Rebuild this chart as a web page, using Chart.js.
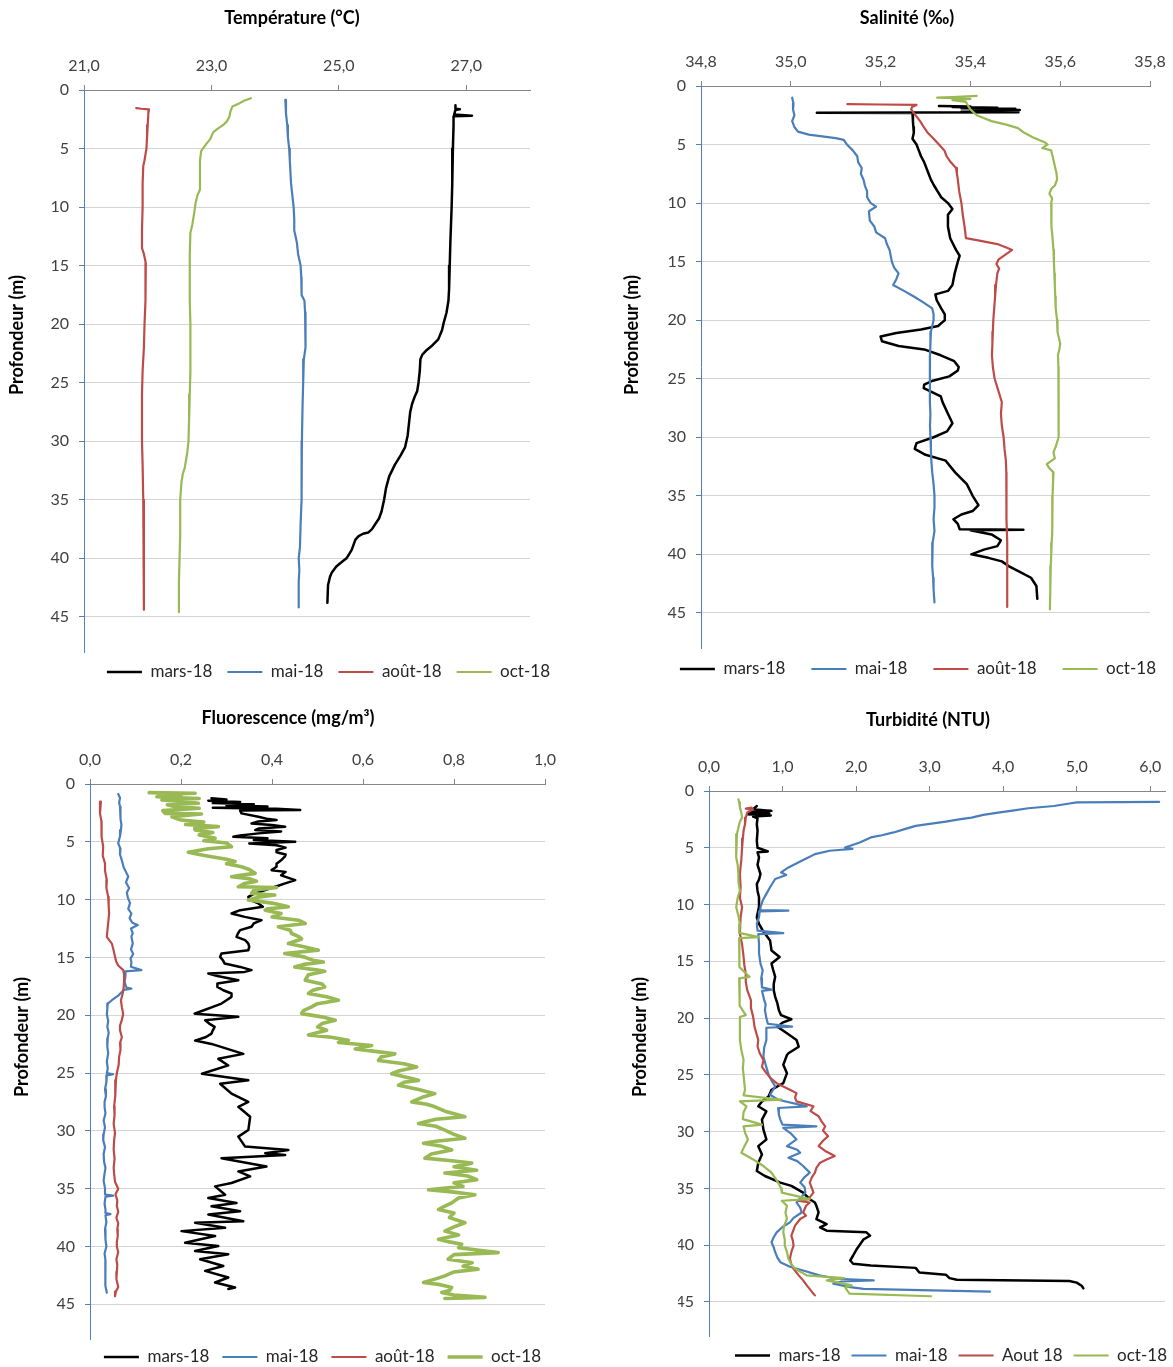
<!DOCTYPE html>
<html lang="fr">
<head>
<meta charset="utf-8">
<title>Profils verticaux 2018</title>
<script src="https://cdn.jsdelivr.net/npm/chart.js@4.4.1/dist/chart.umd.min.js"></script>
<style>
  html, body { margin: 0; padding: 0; background: #fff; }
  body { width: 1173px; height: 1367px; position: relative; overflow: hidden; }
  canvas { position: absolute; }
</style>
</head>
<body>
<canvas id="cTemp" width="586" height="700" style="left:0;top:0"></canvas>
<canvas id="cSal" width="600" height="710" style="left:586px;top:0"></canvas>
<canvas id="cFluo" width="586" height="690" style="left:0;top:690px"></canvas>
<canvas id="cTurb" width="600" height="690" style="left:586px;top:690px"></canvas>
<script>
// rows are [profondeur (m), valeur]
var depthTicks = [0, 5, 10, 15, 20, 25, 30, 35, 40, 45];
var seriesNames = ['mars-18', 'mai-18', 'août-18', 'oct-18'];
var turbNames = ['mars-18', 'mai-18', 'Aout 18', 'oct-18'];

// Température (°C)
var tempTicks = [21, 23, 25, 27];
var tempMars = [[1.3,26.83],[1.6,26.83],[1.65,26.9],[1.7,26.83],[2.1,26.81],[2.2,27.09],[2.25,26.8],[3,26.8],[5,26.79],[8,26.78],[10,26.77],[13,26.75],[15,26.74],[17,26.73],[18,26.72],[19,26.69],[20,26.64],[20.5,26.62],[21.3,26.56],[21.8,26.47],[22.2,26.38],[22.6,26.31],[23,26.28],[24,26.27],[25,26.25],[25.7,26.23],[26.2,26.19],[26.8,26.15],[27.5,26.12],[28.5,26.1],[29.5,26.08],[30.5,26.04],[31.2,25.97],[32,25.88],[33,25.79],[34,25.74],[35,25.71],[36,25.67],[36.6,25.63],[37,25.58],[37.5,25.52],[37.8,25.46],[37.9,25.38],[38.1,25.31],[38.4,25.26],[39.3,25.2],[40,25.12],[40.3,25.05],[40.7,24.96],[41.2,24.89],[41.6,24.86],[42.3,24.83],[43.8,24.82]];
var tempMai = [[0.85,24.16],[2,24.17],[3,24.19],[4,24.2],[5,24.22],[6,24.23],[7,24.24],[8,24.25],[9,24.27],[10,24.29],[11,24.3],[12,24.3],[12.5,24.32],[13,24.34],[14,24.36],[15,24.4],[16,24.41],[17,24.42],[17.5,24.41],[18,24.46],[19,24.47],[20,24.48],[21,24.48],[22,24.47],[23,24.45],[25,24.44],[27,24.43],[30,24.42],[33,24.42],[35,24.41],[37,24.4],[39,24.39],[40,24.37],[41,24.38],[42,24.37],[44.2,24.37]];
var tempAout = [[1.55,21.82],[1.6,21.9],[1.65,22.02],[2,22.01],[3,22],[4,21.99],[5,21.98],[6,21.95],[6.5,21.93],[8,21.92],[10,21.92],[12,21.91],[13.5,21.91],[14,21.94],[14.8,21.97],[16,21.97],[18,21.96],[20,21.95],[22,21.94],[24,21.92],[26,21.91],[28,21.91],[30,21.91],[32,21.92],[35,21.93],[38,21.94],[41,21.94],[44.4,21.94]];
var tempOct = [[0.7,23.62],[0.9,23.52],[1.1,23.45],[1.4,23.33],[1.8,23.3],[2.3,23.28],[2.7,23.24],[3,23.18],[3.3,23.1],[3.6,23.03],[4.2,22.98],[4.6,22.92],[5.2,22.84],[6,22.82],[7,22.82],[8.5,22.82],[9,22.78],[9.7,22.75],[10.5,22.73],[11.5,22.7],[12.2,22.67],[14,22.66],[16,22.66],[18,22.66],[20,22.67],[22,22.67],[24,22.67],[26,22.66],[28,22.65],[30,22.64],[31,22.62],[32.3,22.58],[32.8,22.55],[33.5,22.53],[35,22.51],[38,22.51],[40,22.5],[42,22.49],[44.6,22.49]];

// Salinité (‰)
var salTicks = [34.8, 35.0, 35.2, 35.4, 35.6, 35.8];
var salMars = [[1.7,35.33],[1.75,35.4],[1.8,35.36],[1.85,35.46],[1.9,35.38],[1.95,35.5],[2,35.4],[2.05,35.51],[2.1,35.42],[2.15,35.5],[2.2,35.38],[2.25,35.507],[2.29,35.058],[2.3,35.271],[3,35.272],[3.5,35.273],[4,35.274],[4.5,35.271],[5,35.28],[5.5,35.285],[6,35.29],[6.5,35.297],[7,35.302],[7.5,35.307],[8,35.312],[8.5,35.319],[9,35.327],[9.5,35.335],[10,35.35],[10.5,35.36],[11,35.35],[12,35.35],[13,35.355],[14,35.368],[14.5,35.376],[15,35.372],[16,35.365],[17,35.36],[17.5,35.35],[17.8,35.322],[18.3,35.325],[19,35.335],[19.5,35.343],[20,35.343],[20.5,35.328],[20.8,35.29],[21.1,35.235],[21.4,35.2],[21.8,35.203],[22.2,35.24],[22.5,35.297],[23,35.334],[23.5,35.364],[24,35.374],[24.3,35.372],[24.8,35.353],[25.2,35.314],[25.5,35.297],[25.8,35.296],[26.2,35.318],[26.5,35.334],[27,35.338],[28,35.35],[28.8,35.36],[29.5,35.348],[30,35.318],[30.5,35.28],[31,35.276],[31.5,35.3],[32,35.345],[33,35.366],[34,35.392],[35,35.405],[35.8,35.418],[36.3,35.405],[36.6,35.38],[37,35.362],[37.4,35.372],[37.85,35.376],[37.9,35.518],[37.95,35.4],[38.3,35.447],[38.8,35.468],[39.3,35.46],[39.6,35.43],[40,35.402],[40.3,35.44],[40.6,35.47],[41,35.485],[41.5,35.51],[42,35.535],[42.7,35.547],[43.8,35.549]];
var salMai = [[1,35.003],[1.5,35.006],[2,35.005],[2.5,35.008],[3,35.003],[3.5,35.008],[3.9,35.016],[4.15,35.04],[4.3,35.07],[4.45,35.1],[4.6,35.118],[5,35.125],[5.5,35.138],[6,35.148],[6.5,35.15],[7,35.158],[7.5,35.156],[8,35.162],[8.5,35.165],[9,35.17],[9.5,35.17],[10,35.178],[10.3,35.19],[10.7,35.174],[11.5,35.176],[12,35.186],[12.5,35.19],[13,35.21],[13.5,35.214],[14,35.22],[15,35.225],[15.5,35.23],[16,35.24],[16.5,35.235],[17,35.228],[17.5,35.252],[18,35.275],[18.5,35.296],[19,35.315],[19.5,35.318],[20,35.318],[21,35.312],[22,35.311],[23,35.31],[24,35.31],[25,35.309],[26,35.31],[27,35.31],[28,35.311],[29,35.31],[30,35.311],[31,35.312],[32,35.313],[33,35.315],[34,35.318],[35,35.32],[36,35.32],[37,35.318],[38,35.32],[39,35.316],[40,35.315],[41,35.315],[42,35.317],[43,35.318],[44.1,35.32]];
var salAout = [[1.55,35.126],[1.58,35.2],[1.62,35.28],[1.8,35.27],[2,35.268],[2.4,35.276],[3,35.288],[3.5,35.296],[4,35.305],[4.5,35.318],[5,35.33],[5.5,35.342],[6,35.347],[6.5,35.356],[7,35.368],[7.5,35.37],[8,35.372],[9,35.375],[10,35.38],[11,35.383],[12,35.387],[13,35.39],[13.2,35.42],[13.5,35.46],[13.8,35.48],[14,35.493],[14.4,35.478],[14.8,35.463],[15.2,35.458],[15.6,35.464],[16,35.46],[17,35.457],[18,35.455],[19,35.453],[20,35.451],[21,35.45],[22,35.449],[23,35.448],[24,35.45],[25,35.454],[26,35.462],[27,35.47],[28,35.468],[29,35.47],[30,35.474],[31,35.476],[32,35.479],[33,35.48],[34,35.48],[35,35.48],[37,35.481],[39,35.482],[41,35.482],[43,35.482],[44.5,35.482]];
var salOct = [[0.85,35.414],[0.95,35.36],[1,35.326],[1.05,35.38],[1.1,35.4],[1.2,35.36],[1.35,35.39],[1.5,35.392],[1.7,35.395],[2,35.4],[2.5,35.414],[3,35.447],[3.3,35.48],[3.6,35.506],[4,35.52],[4.4,35.54],[4.8,35.565],[5,35.572],[5.3,35.56],[5.5,35.58],[6,35.583],[6.5,35.586],[7,35.589],[7.5,35.592],[8,35.593],[8.5,35.588],[8.8,35.58],[9.2,35.576],[9.6,35.582],[10,35.58],[11,35.58],[12,35.581],[13,35.583],[14,35.585],[15,35.586],[16,35.587],[17,35.588],[18,35.589],[19,35.59],[20,35.593],[21,35.594],[22,35.6],[22.5,35.598],[23,35.595],[24,35.596],[25,35.597],[26,35.596],[27,35.596],[28,35.597],[29,35.597],[30,35.596],[30.8,35.59],[31.3,35.585],[31.8,35.588],[32.3,35.57],[32.6,35.575],[33,35.585],[34,35.584],[35,35.583],[36,35.583],[37,35.582],[38,35.582],[39,35.581],[40,35.58],[41,35.579],[42,35.578],[43,35.578],[44.7,35.577]];

// Fluorescence (mg/m3)
var fluoTicks = [0, 0.2, 0.4, 0.6, 0.8, 1.0];
var fluoMars = [[1.24,0.267],[1.35,0.3],[1.45,0.26],[1.55,0.33],[1.65,0.27],[1.75,0.36],[1.85,0.3],[1.95,0.39],[2.05,0.27],[2.15,0.41],[2.25,0.462],[2.3,0.33],[2.54,0.333],[2.83,0.37],[3,0.388],[3.12,0.41],[3.25,0.37],[3.41,0.355],[3.55,0.4],[3.69,0.429],[3.85,0.37],[3.98,0.363],[4.1,0.42],[4.27,0.37],[4.45,0.33],[4.56,0.315],[4.7,0.39],[4.85,0.36],[5,0.451],[5.14,0.35],[5.3,0.41],[5.5,0.43],[5.71,0.41],[5.9,0.41],[6.1,0.43],[6.29,0.428],[6.6,0.42],[6.9,0.41],[7.16,0.41],[7.45,0.399],[7.6,0.43],[7.9,0.42],[8.31,0.451],[8.6,0.429],[8.89,0.407],[9.18,0.385],[9.5,0.36],[9.76,0.348],[10,0.35],[10.33,0.37],[10.62,0.38],[10.91,0.33],[11.2,0.311],[11.49,0.34],[11.78,0.377],[12.06,0.36],[12.35,0.355],[12.64,0.33],[12.93,0.325],[13.22,0.322],[13.51,0.341],[13.8,0.348],[14.08,0.35],[14.37,0.348],[14.66,0.289],[14.95,0.286],[15.24,0.292],[15.53,0.296],[15.82,0.33],[16.1,0.355],[16.25,0.34],[16.39,0.26],[16.6,0.28],[16.97,0.326],[17.26,0.28],[17.55,0.28],[17.84,0.293],[18.12,0.311],[18.41,0.311],[18.7,0.3],[18.99,0.289],[19.28,0.27],[19.57,0.25],[19.86,0.23],[20.14,0.326],[20.43,0.253],[20.72,0.262],[21.01,0.274],[21.3,0.27],[21.59,0.267],[21.88,0.255],[22.19,0.231],[22.48,0.267],[23.34,0.337],[23.77,0.282],[24.34,0.304],[25.06,0.246],[25.63,0.348],[25.92,0.286],[26.78,0.311],[27.49,0.348],[27.92,0.326],[28.78,0.352],[29.93,0.348],[30.5,0.326],[31.36,0.341],[31.65,0.436],[31.93,0.385],[32.08,0.429],[32.36,0.289],[33.08,0.388],[33.51,0.326],[33.94,0.352],[34.51,0.311],[34.8,0.275],[35.52,0.297],[35.8,0.26],[36.23,0.322],[36.52,0.267],[36.95,0.33],[37.23,0.26],[37.81,0.337],[37.95,0.231],[38.38,0.297],[38.67,0.201],[39.1,0.275],[39.67,0.209],[39.96,0.282],[40.39,0.231],[40.67,0.304],[41.1,0.242],[41.68,0.293],[42.11,0.253],[42.68,0.304],[43.11,0.275],[43.54,0.319],[43.68,0.304]];
var fluoMai = [[0.86,0.062],[1.2,0.066],[1.6,0.064],[1.95,0.066],[2.5,0.068],[3,0.066],[3.5,0.069],[3.98,0.068],[4.5,0.066],[5.13,0.062],[5.6,0.067],[6.1,0.066],[6.6,0.07],[7.2,0.074],[7.6,0.079],[8,0.084],[8.5,0.079],[9,0.086],[9.4,0.081],[9.8,0.083],[10.3,0.088],[10.8,0.084],[11.2,0.091],[11.6,0.087],[12,0.093],[12.2,0.105],[12.5,0.09],[12.9,0.094],[13.2,0.091],[13.8,0.094],[14.3,0.09],[14.7,0.095],[15.1,0.089],[15.4,0.091],[15.8,0.09],[16.1,0.113],[16.2,0.077],[16.6,0.078],[17.1,0.076],[17.6,0.08],[17.7,0.091],[17.8,0.075],[18.3,0.062],[18.7,0.048],[19,0.039],[19.5,0.038],[19.9,0.037],[20.5,0.04],[21,0.038],[21.5,0.041],[22,0.039],[22.7,0.038],[23.3,0.04],[24,0.037],[24.6,0.039],[25,0.037],[25.1,0.051],[25.2,0.037],[25.8,0.036],[26.4,0.033],[27,0.035],[27.5,0.032],[27.9,0.032],[28.5,0.034],[29.1,0.03],[29.7,0.033],[30.3,0.03],[30.8,0.029],[31.4,0.033],[32,0.03],[32.7,0.031],[33.2,0.034],[33.7,0.032],[34.3,0.03],[35,0.033],[35.5,0.033],[35.6,0.051],[35.7,0.034],[36.3,0.032],[36.8,0.034],[37.1,0.034],[37.2,0.045],[37.3,0.034],[37.9,0.036],[38.5,0.033],[39.4,0.034],[40,0.036],[40.6,0.032],[41.2,0.034],[41.8,0.033],[42.2,0.034],[42.8,0.035],[43.4,0.033],[44,0.037]];
var fluoAout = [[1.53,0.024],[1.8,0.022],[2.54,0.022],[3.2,0.025],[3.98,0.026],[4.6,0.025],[5.43,0.029],[6.2,0.028],[6.87,0.033],[7.5,0.033],[8.31,0.037],[9,0.036],[9.76,0.04],[10.5,0.041],[11.2,0.042],[12,0.04],[12.8,0.038],[13.22,0.037],[13.8,0.048],[14.4,0.052],[14.95,0.055],[15.4,0.058],[15.7,0.062],[16.1,0.073],[16.5,0.075],[17,0.075],[17.6,0.074],[18.1,0.072],[18.7,0.068],[19.3,0.07],[19.9,0.073],[20.4,0.07],[20.9,0.066],[21.3,0.066],[21.9,0.07],[22.4,0.066],[23,0.067],[23.6,0.064],[24.3,0.063],[25,0.059],[25.6,0.057],[26.3,0.055],[27,0.056],[27.9,0.053],[28.6,0.054],[29.4,0.052],[30.2,0.055],[30.8,0.053],[31.6,0.052],[32.4,0.054],[33.2,0.052],[33.7,0.053],[34.4,0.055],[35,0.062],[35.5,0.056],[36,0.06],[36.5,0.059],[37,0.062],[37.5,0.058],[38,0.062],[38.5,0.06],[39.1,0.061],[39.6,0.059],[40,0.059],[40.5,0.062],[41.1,0.058],[41.6,0.06],[42.2,0.059],[42.8,0.058],[43.5,0.062],[43.9,0.057],[44.3,0.055]];
var fluoOct = [[0.75,0.13],[0.8,0.231],[0.9,0.15],[1,0.2],[1.1,0.147],[1.25,0.24],[1.39,0.158],[1.5,0.2],[1.67,0.238],[1.8,0.17],[1.96,0.187],[2.1,0.24],[2.3,0.16],[2.54,0.165],[2.6,0.245],[2.83,0.18],[3.12,0.2],[3.3,0.25],[3.5,0.21],[3.69,0.282],[3.85,0.23],[3.98,0.231],[4.2,0.27],[4.4,0.24],[4.7,0.275],[4.9,0.25],[5.1,0.3],[5.43,0.311],[5.6,0.26],[5.9,0.216],[6.1,0.24],[6.29,0.267],[6.5,0.3],[6.7,0.319],[6.9,0.3],[7.16,0.333],[7.4,0.35],[7.73,0.363],[7.9,0.33],[8.02,0.311],[8.2,0.35],[8.4,0.366],[8.6,0.34],[8.89,0.326],[8.95,0.41],[9.18,0.36],[9.47,0.355],[9.6,0.406],[9.8,0.37],[10.04,0.348],[10.3,0.4],[10.62,0.436],[10.8,0.39],[10.91,0.385],[11.2,0.42],[11.5,0.4],[11.78,0.458],[12.06,0.473],[12.35,0.414],[12.64,0.44],[12.93,0.443],[13.22,0.46],[13.4,0.465],[13.8,0.436],[14.08,0.47],[14.37,0.502],[14.66,0.428],[14.95,0.47],[15.24,0.49],[15.4,0.513],[15.6,0.47],[15.82,0.45],[16.1,0.5],[16.2,0.516],[16.5,0.48],[16.97,0.473],[17.3,0.51],[17.55,0.516],[17.84,0.49],[18.12,0.48],[18.4,0.52],[18.7,0.546],[19,0.5],[19.28,0.487],[19.57,0.47],[19.86,0.465],[20.14,0.51],[20.43,0.539],[20.72,0.51],[21.01,0.5],[21.3,0.52],[21.7,0.48],[21.9,0.53],[22.16,0.568],[22.35,0.546],[22.62,0.619],[22.91,0.583],[23.34,0.67],[23.6,0.64],[23.91,0.634],[24.2,0.69],[24.48,0.718],[24.8,0.68],[25.06,0.663],[25.4,0.7],[25.63,0.722],[25.8,0.69],[26.06,0.678],[26.4,0.72],[26.78,0.758],[27.1,0.73],[27.49,0.707],[27.7,0.74],[27.92,0.758],[28.3,0.78],[28.78,0.824],[29,0.76],[29.36,0.722],[29.6,0.76],[29.93,0.78],[30.3,0.8],[30.64,0.824],[30.9,0.76],[31.07,0.733],[31.3,0.77],[31.65,0.795],[32,0.75],[32.36,0.736],[32.6,0.8],[32.79,0.839],[33.1,0.8],[33.4,0.85],[33.65,0.78],[33.9,0.83],[34.23,0.85],[34.5,0.8],[34.8,0.82],[35.09,0.744],[35.3,0.8],[35.52,0.846],[35.8,0.81],[36.23,0.795],[36.5,0.78],[36.81,0.766],[37.1,0.8],[37.5,0.79],[37.95,0.824],[38.3,0.8],[38.67,0.78],[39,0.81],[39.38,0.766],[39.6,0.79],[39.81,0.817],[40.1,0.81],[40.3,0.85],[40.53,0.897],[40.7,0.8],[41.1,0.787],[41.4,0.84],[41.7,0.82],[41.96,0.853],[42.2,0.8],[42.54,0.78],[42.8,0.76],[43.11,0.733],[43.3,0.77],[43.54,0.795],[43.8,0.79],[43.97,0.773],[44.2,0.8],[44.4,0.868],[44.5,0.78]];

// Turbidité (NTU)
var turbTicks = [0, 1, 2, 3, 4, 5, 6];
var turbMars = [[1.32,0.65],[1.6,0.6],[1.75,0.85],[1.85,0.55],[1.95,0.82],[2.05,0.52],[2.15,0.84],[2.25,0.6],[2.4,0.66],[2.92,0.65],[3.5,0.66],[4.39,0.65],[5,0.66],[5.32,0.8],[5.4,0.66],[5.85,0.68],[6.5,0.66],[7.31,0.7],[7.8,0.68],[8.19,0.65],[8.8,0.66],[9.36,0.68],[10.2,0.68],[11.11,0.65],[11.7,0.68],[12.28,0.73],[13.16,0.83],[14.04,0.85],[14.62,0.96],[15.2,0.85],[15.7,0.87],[16.37,0.9],[17,0.88],[17.54,0.88],[18.13,0.9],[18.71,0.93],[19.3,0.95],[19.74,0.98],[20.1,1.12],[20.4,1],[20.76,0.93],[21.3,1.05],[21.93,1.19],[22.52,1.22],[23.1,1.08],[23.25,1.06],[24.12,1.01],[24.85,1.06],[25.73,1.01],[26.31,0.85],[26.9,0.81],[27.34,0.72],[27.77,0.67],[28.21,0.78],[28.94,0.72],[29.82,0.74],[30.69,0.78],[31.28,0.67],[32.01,0.72],[32.74,0.67],[33.47,0.65],[33.91,0.76],[34.49,0.97],[34.78,1.12],[35.37,1.28],[35.95,1.37],[36.24,1.44],[36.53,1.46],[37.12,1.49],[37.7,1.46],[38.14,1.6],[38.43,1.51],[38.72,1.6],[38.87,2.14],[39.16,2.19],[39.5,2.1],[40.33,2.01],[40.91,1.96],[41.35,1.92],[41.64,1.96],[41.8,2.2],[42,2.81],[42.4,2.86],[42.6,3.22],[42.9,3.27],[43.05,3.37],[43.15,4.9],[43.3,5],[43.6,5.07],[43.8,5.09]];
var turbMai = [[0.96,6.12],[0.98,5.6],[1,5],[1.1,4.9],[1.32,4.69],[1.52,4.34],[1.7,4.15],[1.9,3.93],[2.1,3.73],[2.34,3.57],[2.5,3.4],[2.69,3.22],[2.9,3],[3.07,2.81],[3.36,2.66],[3.65,2.51],[3.9,2.35],[4.09,2.2],[4.53,2.05],[4.97,1.85],[5.1,1.95],[5.26,1.64],[5.56,1.44],[5.85,1.35],[6.14,1.26],[6.73,1.08],[7.16,0.98],[7.4,1.05],[7.75,0.9],[8.48,0.83],[9.06,0.78],[9.65,0.73],[10.23,0.7],[10.5,0.7],[10.53,1.08],[10.6,0.69],[11.11,0.68],[11.7,0.65],[12.3,0.66],[12.51,1.01],[12.6,0.67],[13.45,0.68],[14.3,0.68],[15.2,0.7],[15.8,0.73],[16.5,0.71],[17.3,0.72],[17.49,0.85],[17.6,0.72],[18.4,0.75],[18.8,0.77],[19.3,0.76],[20,0.78],[20.5,0.8],[20.76,1.13],[20.85,0.78],[21.93,0.78],[22.6,0.75],[23.39,0.74],[24.1,0.77],[25,0.81],[25.5,0.85],[26.02,0.9],[26.75,0.83],[27.19,0.94],[27.77,1.33],[27.92,0.94],[28.5,0.95],[28.94,0.97],[29.38,1],[29.53,1.46],[29.67,1.01],[30.2,1.12],[30.69,1.19],[31.28,1.06],[31.6,1.2],[31.86,1.24],[32.3,1.08],[32.6,1.2],[33.03,1.28],[33.61,1.37],[34,1.3],[34.49,1.24],[34.9,1.3],[35.37,1.31],[35.8,1.25],[36.24,1.19],[36.7,1.24],[37.12,1.26],[37.6,1.15],[37.99,1.1],[38.4,1],[38.87,0.92],[39.3,0.88],[39.74,0.85],[40.2,0.88],[40.62,0.9],[41.1,0.93],[41.5,0.97],[41.9,1.1],[42.23,1.28],[42.66,1.5],[42.96,1.74],[43.1,2.24],[43.2,1.8],[43.39,1.69],[43.69,1.92],[43.85,2.1],[44.1,3.82]];
var turbAout = [[1.46,0.58],[1.55,0.5],[1.61,0.6],[1.9,0.52],[2.34,0.5],[2.9,0.49],[3.51,0.47],[4.2,0.46],[4.97,0.45],[6,0.44],[7.31,0.42],[8.5,0.43],[9.4,0.42],[10.23,0.45],[11.1,0.43],[12.57,0.42],[13.5,0.45],[14.62,0.47],[15.3,0.48],[16.08,0.5],[16.8,0.5],[17.54,0.52],[18.42,0.57],[19.1,0.57],[19.88,0.6],[20.8,0.62],[21.93,0.67],[22.5,0.66],[23.1,0.69],[23.69,0.74],[24.3,0.72],[24.85,0.78],[25.3,0.84],[25.73,0.92],[26.31,1.1],[26.61,1.19],[27,1.17],[27.34,1.19],[27.77,1.42],[28.2,1.38],[28.65,1.49],[29.1,1.53],[29.53,1.58],[29.9,1.55],[30.4,1.62],[30.8,1.55],[31.28,1.49],[31.7,1.58],[32.15,1.71],[32.45,1.6],[32.74,1.51],[33.2,1.46],[33.61,1.44],[34,1.4],[34.49,1.37],[35,1.4],[35.37,1.42],[35.95,1.35],[36.1,1.22],[36.24,1.37],[36.53,1.32],[37.12,1.28],[37.4,1.32],[37.7,1.24],[38.28,1.17],[38.8,1.14],[39.16,1.12],[39.6,1.14],[40.04,1.15],[40.6,1.12],[41.2,1.1],[41.7,1.12],[42.08,1.15],[42.66,1.22],[43.1,1.28],[43.54,1.33],[44.12,1.4],[44.42,1.44]];
var turbOct = [[0.73,0.4],[1,0.41],[1.46,0.42],[1.9,0.44],[2.34,0.45],[2.7,0.42],[3.22,0.4],[3.8,0.38],[4.39,0.37],[5,0.37],[5.85,0.37],[6.5,0.39],[7.31,0.4],[8,0.4],[8.77,0.42],[9.4,0.39],[10.23,0.37],[11,0.4],[11.7,0.42],[12.5,0.41],[12.87,0.68],[12.95,0.41],[13.8,0.41],[14.62,0.42],[15.5,0.41],[16.37,0.55],[16.5,0.41],[17.3,0.41],[18.13,0.42],[18.9,0.42],[19.74,0.5],[19.9,0.42],[20.8,0.42],[21.93,0.42],[22.8,0.44],[23.69,0.47],[24.4,0.46],[25,0.47],[25.7,0.48],[26.31,0.49],[26.8,0.47],[27.19,0.99],[27.34,0.42],[27.77,0.51],[28.3,0.47],[28.9,0.46],[29.38,0.72],[29.53,0.47],[30.1,0.49],[30.69,0.53],[31.3,0.48],[31.86,0.44],[32.45,0.6],[33.03,0.74],[33.61,0.85],[34.1,0.9],[34.49,0.94],[35,0.98],[35.37,0.99],[35.95,1.37],[36.09,0.99],[36.53,1.06],[37.12,1.04],[37.7,1.06],[38.3,1.02],[38.87,1.01],[39.5,1.03],[40.04,1.03],[40.6,1.06],[41.2,1.08],[41.7,1.12],[42.08,1.17],[42.66,1.33],[42.9,1.84],[43.1,1.6],[43.25,1.72],[43.54,1.94],[43.7,1.85],[44,1.88],[44.27,1.91],[44.5,3.02]];

var colors = ['#000000', '#4A7EBB', '#BE4B48', '#98B954'];
var FONT = "Lato, 'Open Sans', sans-serif";

Chart.defaults.font.family = FONT;
Chart.defaults.color = '#404040';

// Excel-style rotated depth title, placed where the original sits
var depthTitle = {
    id: 'depthTitle',
    afterDraw: function(chart, args, opts) {
        if (!opts || opts.x === undefined) return;
        var ctx = chart.ctx;
        ctx.save();
        ctx.translate(opts.x, opts.y);
        ctx.rotate(-Math.PI / 2);
        ctx.font = 'bold 18px ' + FONT;
        ctx.fillStyle = '#000';
        ctx.textAlign = 'center';
        ctx.textBaseline = 'middle';
        ctx.fillText('Profondeur (m)', 0, 0);
        ctx.restore();
    }
};

// legend padding sets both item spacing and height; nudge it back up
var legendShift = {
    id: 'legendShift',
    afterLayout: function(chart, args, opts) {
        if (opts && opts.dy && chart.legend) {
            chart.legend.top += opts.dy;
            chart.legend.bottom += opts.dy;
        }
    }
};
Chart.register(depthTitle, legendShift);

function toPoints(rows) {
    return rows.map(function(r) { return { x: r[1], y: r[0] }; });
}

function comma(v) {
    return Number(v).toFixed(1).replace('.', ',');
}

function buildChart(id, p) {
    var datasets = p.series.map(function(rows, i) {
        return {
            label: p.names[i],
            data: toPoints(rows),
            showLine: true,
            borderColor: colors[i],
            backgroundColor: colors[i],
            borderWidth: p.widths[i],
            borderJoinStyle: 'round',
            borderCapStyle: 'round',
            pointRadius: 0,
            tension: 0,
            order: 4 - i
        };
    });

    return new Chart(document.getElementById(id), {
        type: 'scatter',
        data: { datasets: datasets },
        options: {
            responsive: false,
            animation: false,
            events: [],
            layout: { padding: { left: p.padL, right: p.padR, top: 0, bottom: p.padB } },
            plugins: {
                title: {
                    display: true,
                    text: p.title,
                    color: '#000',
                    font: { size: 18, weight: 'bold' },
                    padding: { top: p.titleTop, bottom: 8 }
                },
                legend: {
                    position: 'bottom',
                    align: p.legAlign,
                    labels: {
                        usePointStyle: true,
                        pointStyle: 'line',
                        pointStyleWidth: 35,
                        padding: p.legPad,
                        color: '#262626',
                        font: { size: 17 },
                        sort: function(a, b) { return a.datasetIndex - b.datasetIndex; }
                    }
                },
                tooltip: { enabled: false },
                depthTitle: { x: p.ytX, y: p.ytY },
                legendShift: { dy: p.legDy }
            },
            scales: {
                x: {
                    type: 'linear',
                    position: 'top',
                    min: p.xMin,
                    max: p.xMax,
                    afterBuildTicks: function(s) { s.ticks = p.xTicks.map(function(v) { return { value: v }; }); },
                    afterFit: function(s) { s.height = p.xH; },
                    ticks: { padding: 10, font: { size: 16 }, maxRotation: 0, autoSkip: false, callback: comma },
                    grid: { drawOnChartArea: false, tickLength: 5, tickColor: '#868686' },
                    border: { color: '#868686' }
                },
                y: {
                    type: 'linear',
                    position: 'left',
                    reverse: true,
                    min: 0,
                    max: 48,
                    afterBuildTicks: function(s) { s.ticks = depthTicks.map(function(v) { return { value: v }; }); },
                    afterFit: function(s) { s.width = p.yW; },
                    ticks: { padding: 10, font: { size: 16 }, autoSkip: false },
                    grid: { color: '#D4D4D4', tickLength: 5, tickColor: '#4F81BD' },
                    border: { color: '#4F81BD' }
                },
                yr: {
                    type: 'linear',
                    axis: 'y',
                    position: 'right',
                    afterFit: function(s) { s.width = p.yrW; },
                    ticks: { display: false },
                    grid: { display: false },
                    border: { display: false }
                }
            }
        }
    });
}

buildChart('cTemp', {
    title: 'Température (°C)',
    names: seriesNames,
    series: [tempMars, tempMai, tempAout, tempOct],
    widths: [2.5, 2.2, 2.2, 2.2],
    xMin: 21, xMax: 28, xTicks: tempTicks,
    padL: 19, padR: 21, padB: 6, titleTop: 7.2, xH: 53.2, yW: 65, yrW: 35,
    legAlign: 'end', legPad: 15, legDy: -3.5, ytX: 17, ytY: 335
});

buildChart('cSal', {
    title: 'Salinité (‰)',
    names: seriesNames,
    series: [salMars, salMai, salAout, salOct],
    widths: [2.5, 2.2, 2.2, 2.2],
    xMin: 34.8, xMax: 35.8, xTicks: salTicks,
    padL: 46, padR: 4, padB: 9, titleTop: 7.2, xH: 49.2, yW: 69, yrW: 32,
    legAlign: 'end', legPad: 26, legDy: -13.5, ytX: 46, ytY: 335
});

buildChart('cFluo', {
    title: 'Fluorescence (mg/m³)',
    names: seriesNames,
    series: [fluoMars, fluoMai, fluoAout, fluoOct],
    widths: [2.5, 2.2, 2.2, 3.6],
    xMin: 0, xMax: 1, xTicks: fluoTicks,
    padL: 22, padR: 32, padB: 1, titleTop: 17.2, xH: 47.2, yW: 68, yrW: 9,
    legAlign: 'end', legPad: 13, legDy: -3.5, ytX: 22, ytY: 347
});

buildChart('cTurb', {
    title: 'Turbidité (NTU)',
    names: turbNames,
    series: [turbMars, turbMai, turbAout, turbOct],
    widths: [2.5, 2.2, 2.2, 2.2],
    xMin: 0, xMax: 6.2, xTicks: turbTicks,
    padL: 92, padR: 8, padB: 6, titleTop: 19.2, xH: 52.2, yW: 31, yrW: 13,
    legAlign: 'end', legPad: 11, legDy: 0, ytX: 54, ytY: 347
});
</script>
</body>
</html>
